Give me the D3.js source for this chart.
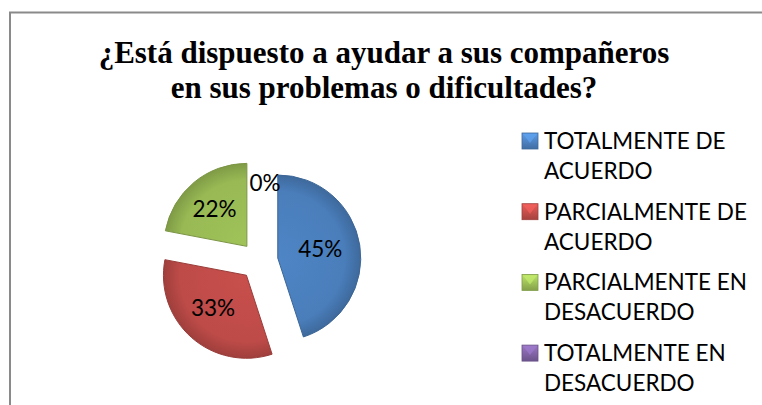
<!DOCTYPE html>
<html>
<head>
<meta charset="utf-8">
<script src="https://cdn.jsdelivr.net/npm/d3@7"></script>
<style>
  body { margin: 0; background: #fff; }
  svg { display: block; }
</style>
</head>
<body>
<div id="chart"></div>
<script>
// Chart data
var titleLines = ["¿Está dispuesto a ayudar a sus compañeros", "en sus problemas o dificultades?"];
var categories = ["TOTALMENTE DE ACUERDO", "PARCIALMENTE DE ACUERDO", "PARCIALMENTE EN DESACUERDO", "TOTALMENTE EN DESACUERDO"];
var legendLines = [["TOTALMENTE DE", "ACUERDO"], ["PARCIALMENTE DE", "ACUERDO"], ["PARCIALMENTE EN", "DESACUERDO"], ["TOTALMENTE EN", "DESACUERDO"]];
var values = [45, 33, 22, 0];
var colors = ["#4A7EBB", "#BE4B48", "#98B954", "#7D60A0"];

var width = 762, height = 405;

var svg = d3.select("#chart")
  .append("svg")
  .attr("width", width)
  .attr("height", height);

// chart border (runs off the right and bottom edges)
svg.append("rect")
  .attr("x", 10)
  .attr("y", 12.5)
  .attr("width", 800)
  .attr("height", 450)
  .attr("fill", "#fff")
  .attr("stroke", "#8a8a8a")
  .attr("stroke-width", 2);

// Title
svg.selectAll(".title")
  .data(titleLines)
  .enter()
  .append("text")
  .attr("class", "title")
  .attr("x", 384)
  .attr("y", (d, i) => 63 + i * 35)
  .attr("text-anchor", "middle")
  .style("font-family", "'Liberation Serif', 'Times New Roman', serif")
  .style("font-weight", "bold")
  .style("font-size", "31px")
  .text(d => d);

// gradients for the bevelled look
var defs = svg.append("defs");
colors.forEach(function (c, i) {
  var g = defs.append("radialGradient")
    .attr("id", "grad" + i)
    .attr("gradientUnits", "userSpaceOnUse")
    .attr("cx", 0).attr("cy", 0).attr("r", 83);
  g.append("stop").attr("offset", "0%").attr("stop-color", d3.color(c).brighter(0.15));
  g.append("stop").attr("offset", "80%").attr("stop-color", c);
  g.append("stop").attr("offset", "100%").attr("stop-color", d3.color(c).darker(0.5));

  var lg = defs.append("linearGradient")
    .attr("id", "lgrad" + i)
    .attr("x1", 0).attr("y1", 0).attr("x2", 0).attr("y2", 1);
  lg.append("stop").attr("offset", "0%").attr("stop-color", d3.color(c).brighter(0.6));
  lg.append("stop").attr("offset", "100%").attr("stop-color", d3.color(c).darker(0.4));
});

// Pie
var cx = 259, cy = 261, radius = 83, explode = 19;

var pie = d3.pie().sort(null).value(d => d);
var arcs = pie(values);
var arc = d3.arc().innerRadius(0).outerRadius(radius);

var g = svg.append("g")
  .attr("transform", "translate(" + cx + "," + cy + ")");

function offset(d) {
  var a = (d.startAngle + d.endAngle) / 2;
  return [Math.sin(a) * explode, -Math.cos(a) * explode];
}

var slices = g.selectAll(".slice")
  .data(arcs)
  .enter()
  .append("g")
  .attr("class", "slice")
  .attr("transform", d => "translate(" + offset(d) + ")");

slices.filter(d => d.value > 0)
  .append("path")
  .attr("d", arc)
  .attr("fill", (d, i) => "url(#grad" + i + ")")
  .attr("stroke", (d, i) => d3.color(colors[i]).darker(0.6))
  .attr("stroke-width", 1);

// percentage labels
var total = d3.sum(values);
slices.append("text")
  .attr("transform", function (d) {
    var a = (d.startAngle + d.endAngle) / 2;
    var r = d.value > 0 ? 46 : 57;
    var nudge = d.value > 0 ? -3 : 6;
    return "translate(" + (Math.sin(a) * r + nudge) + "," + (-Math.cos(a) * r - 2) + ")";
  })
  .attr("text-anchor", "middle")
  .attr("dy", "0.36em")
  .style("font-family", "Lato, 'Noto Sans', sans-serif")
  .style("font-size", "22.5px")
  .style("fill", "#000")
  .text(d => Math.round(d.value / total * 100) + "%");

// Legend
var legend = svg.selectAll(".legend")
  .data(categories)
  .enter()
  .append("g")
  .attr("class", "legend")
  .attr("transform", (d, i) => "translate(522," + (133 + i * 70.7) + ")");

var size = 16;
legend.append("rect")
  .attr("width", size)
  .attr("height", size)
  .attr("fill", (d, i) => "url(#lgrad" + i + ")")
  .attr("stroke", (d, i) => d3.color(colors[i]).darker(0.5))
  .attr("stroke-width", 0.8);

legend.append("path")
  .attr("d", "M1,1L" + (size - 1) + ",1L" + (size / 2) + "," + (size / 2 + 2) + "Z")
  .attr("fill", (d, i) => d3.color(colors[i]).brighter(0.7))
  .attr("opacity", 0.7);

legend.selectAll("text")
  .data((d, i) => legendLines[i])
  .enter()
  .append("text")
  .attr("x", 22)
  .attr("y", (d, i) => 16 + i * 30)
  .style("font-family", "Lato, 'Noto Sans', sans-serif")
  .style("font-size", "22.5px")
  .style("fill", "#000")
  .text(d => d);
</script>
</body>
</html>
